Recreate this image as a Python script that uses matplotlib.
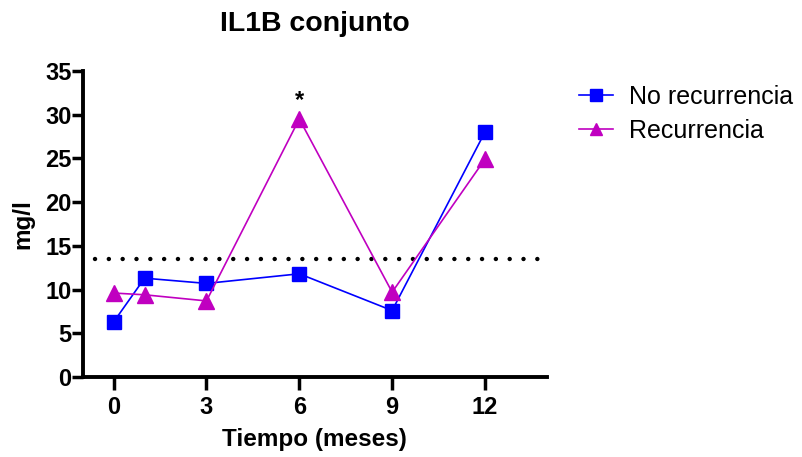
import numpy as np
import matplotlib.pyplot as plt

plt.rcParams['font.family'] = ['Liberation Sans', 'DejaVu Sans']

# data
meses = [0, 1, 3, 6, 9, 12]
no_recurrencia = [6.3, 11.3, 10.7, 11.8, 7.6, 28.0]
recurrencia = [9.6, 9.4, 8.7, 29.5, 9.7, 24.9]
umbral = 13.5
xticks = [0, 3, 6, 9, 12]
yticks = [0, 5, 10, 15, 20, 25, 30, 35]

fig = plt.figure(figsize=(8.03, 4.57), dpi=100)
ax = fig.add_axes([0.103, 0.175, 0.578, 0.670])

ax.plot(meses, no_recurrencia, color='#0000FF', lw=1.2, marker='s', ms=10,
        label='No recurrencia', clip_on=False, zorder=3)
ax.plot(meses, recurrencia, color='#C000C0', lw=1.2, marker='^', ms=11,
        label='Recurrencia', clip_on=False, zorder=3)

# threshold line
ax.plot([-0.6, 13.9], [umbral, umbral], color='black', lw=3.2,
        linestyle=(0, (0.01, 3.1)), dash_capstyle='round', zorder=2)

# significance mark
ax.text(6, 30.3, '*', ha='center', va='bottom', fontsize=17, fontweight='bold')

ax.set_xlim(-1, 14)
ax.set_ylim(0, 35)
ax.set_xticks(xticks)
ax.set_yticks(yticks)

for s in ['top', 'right']:
    ax.spines[s].set_visible(False)
for s in ['left', 'bottom']:
    ax.spines[s].set_linewidth(2.8)

ax.tick_params(axis='y', direction='out', length=8, width=2.5, labelsize=17, pad=0)
ax.tick_params(axis='x', direction='out', length=9, width=2.5, labelsize=17, pad=5)
for lbl in ax.get_xticklabels() + ax.get_yticklabels():
    lbl.set_fontweight('bold')

ax.set_xlabel('Tiempo (meses)', fontsize=17.5, fontweight='bold', labelpad=6)
ax.set_ylabel('mg/l', fontsize=17.5, fontweight='bold', labelpad=8)
ax.set_title('IL1B conjunto', fontsize=20.5, fontweight='bold', pad=29)

fig.legend(loc='upper left', bbox_to_anchor=(0.693, 0.864), frameon=False,
           fontsize=18, handlelength=1.35, handletextpad=0.65, labelspacing=0.42,
           markerscale=0.8)

plt.savefig('out.png', dpi=100)
